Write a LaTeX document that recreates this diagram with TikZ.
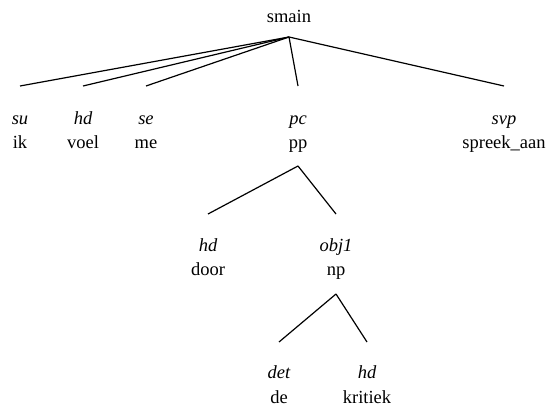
\documentclass[tikz,border=0pt]{standalone}
\usepackage{fontspec}
\setmainfont{Liberation Serif}
\tikzset{
  word/.style={anchor=base, inner sep=0pt, font=\fontsize{18.5}{22}\selectfont},
  rel/.style={anchor=base, inner sep=0pt, font=\fontsize{18.5}{22}\selectfont\itshape},
  edge/.style={draw=black, line width=1.2pt},
}
\begin{document}
\begin{tikzpicture}[x=1pt,y=-1pt]
\useasboundingbox (0,0) rectangle (548,412);
% root
\node[word] (smain) at (289,23) {smain};
\coordinate (smainA) at (289,37);
% level 1
\coordinate (suT) at (20,86);
\node[rel] (su) at (20,124) {su};
\node[word] (ik) at (20,148) {ik};
\coordinate (hdaT) at (83,86);
\node[rel] (hda) at (83,124) {hd};
\node[word] (voel) at (83,148) {voel};
\coordinate (seT) at (146,86);
\node[rel] (se) at (146,124) {se};
\node[word] (me) at (146,148) {me};
\coordinate (pcT) at (298,86);
\node[rel] (pc) at (298,124) {pc};
\node[word] (pp) at (298,148) {pp};
\coordinate (svpT) at (504,86);
\node[rel] (svp) at (504,124) {svp};
\node[word] (spreek) at (504,148) {spreek\_aan};
\draw[edge] (smainA) -- (suT);
\draw[edge] (smainA) -- (hdaT);
\draw[edge] (smainA) -- (seT);
\draw[edge] (smainA) -- (pcT);
\draw[edge] (smainA) -- (svpT);
% level 2
\coordinate (ppA) at (298,166);
\coordinate (hdbT) at (208,214);
\node[rel] (hdb) at (208,251) {hd};
\node[word] (door) at (208,275) {door};
\coordinate (objT) at (336,214);
\node[rel] (obj) at (336,251) {obj1};
\node[word] (np) at (336,275) {np};
\draw[edge] (ppA) -- (hdbT);
\draw[edge] (ppA) -- (objT);
% level 3
\coordinate (npA) at (336,294);
\coordinate (detT) at (279,342);
\node[rel] (det) at (279,378) {det};
\node[word] (de) at (279,403) {de};
\coordinate (hdcT) at (367,342);
\node[rel] (hdc) at (367,378) {hd};
\node[word] (kritiek) at (367,403) {kritiek};
\draw[edge] (npA) -- (detT);
\draw[edge] (npA) -- (hdcT);
\end{tikzpicture}
\end{document}
